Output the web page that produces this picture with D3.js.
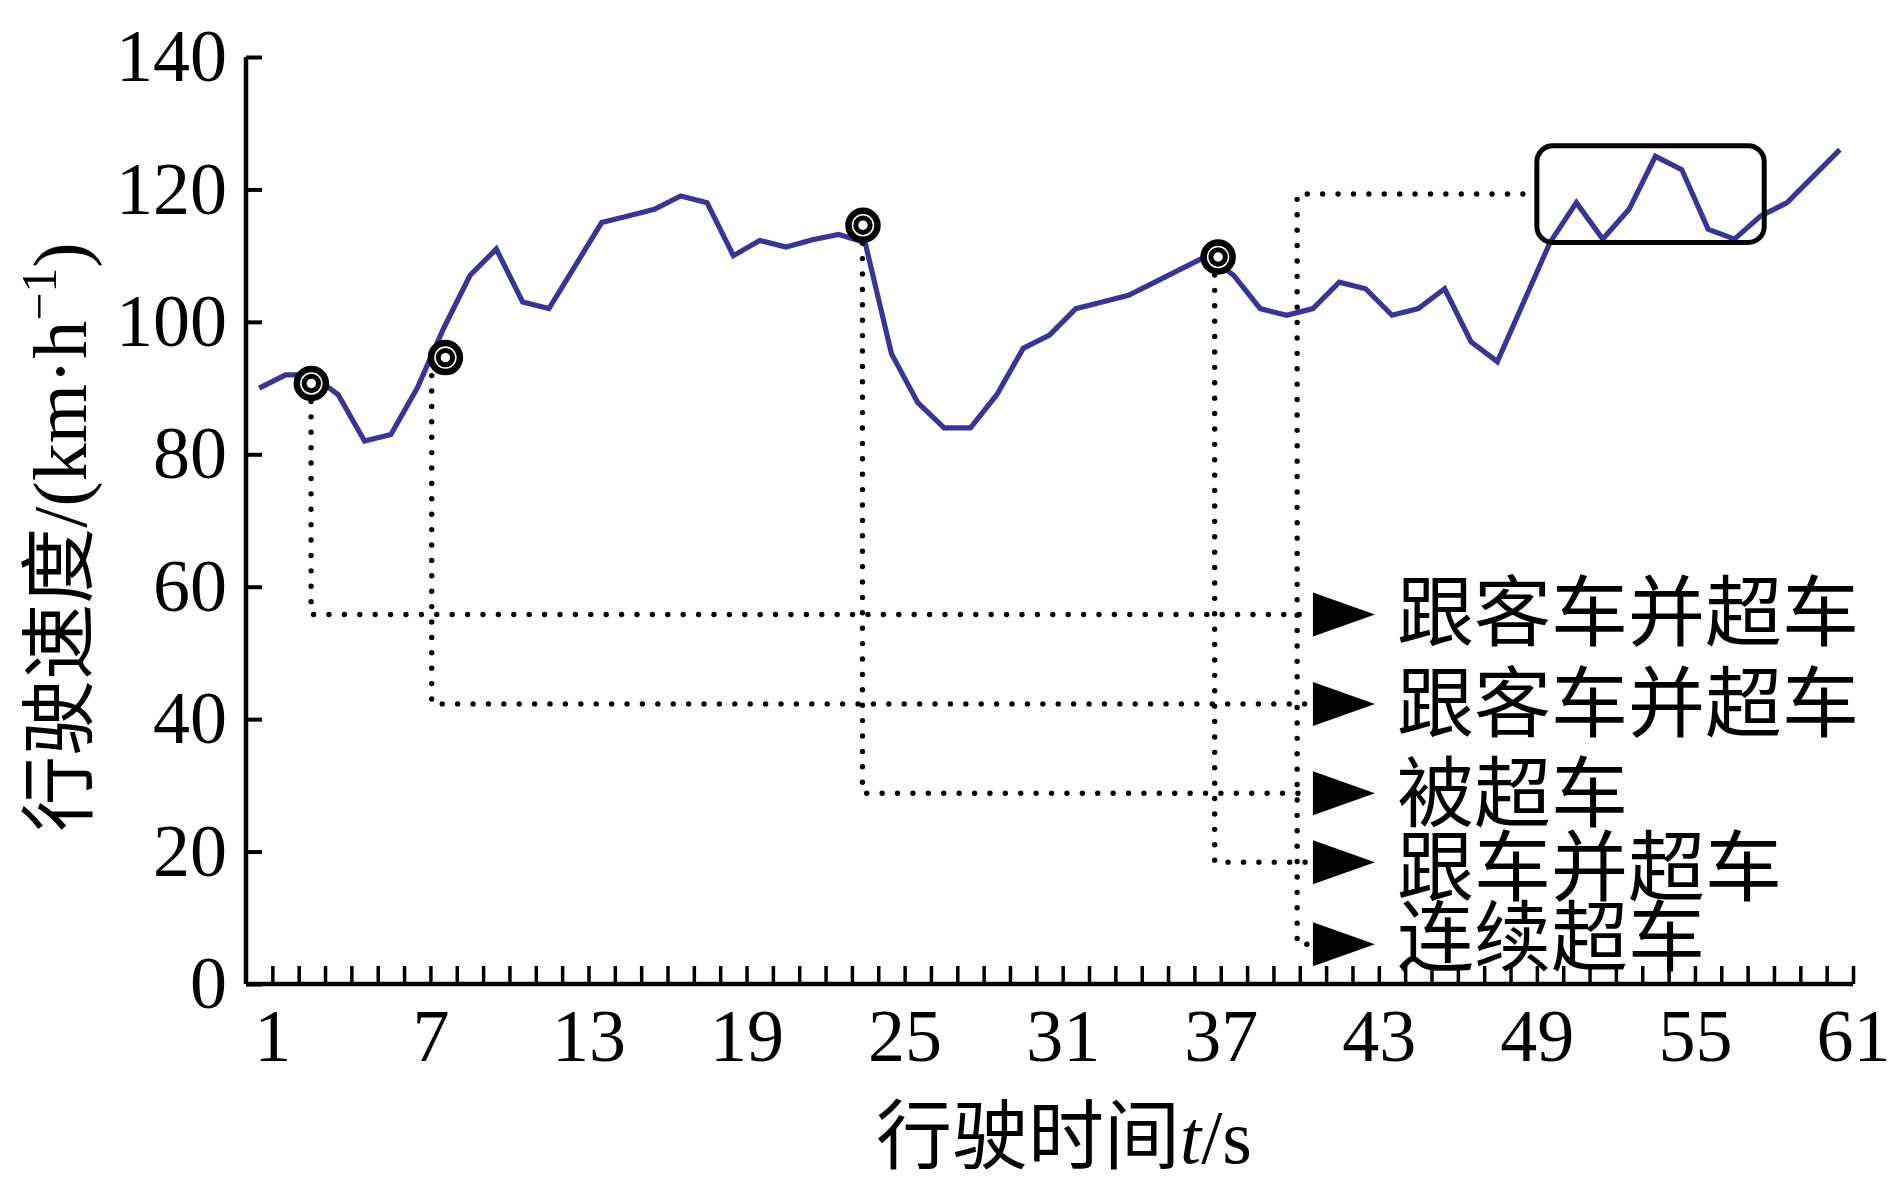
<!DOCTYPE html>
<html><head><meta charset="utf-8">
<script src="https://cdn.jsdelivr.net/npm/d3@7"></script>
<style>
html,body{margin:0;padding:0;background:#fff;}
svg{display:block;}
</style></head>
<body>
<svg id="chart" width="1894" height="1190"></svg>
<script>
// ---- data ----
const seconds = [1,2,3,4,5,6,7,8,9,10,11,12,13,14,15,16,17,18,19,20,21,22,23,24,25,26,27,28,29,30,31,32,33,34,35,36,37,38,39,40,41,42,43,44,45,46,47,48,49,50,51,52,53,54,55,56,57,58,59,60,61];
const speed = [90,92,92,89,82,83,90,99,107,111,103,102,108.5,115,116,117,119,118,110,112.3,111.3,112.4,113.2,112,95.2,87.8,84,84,89,96,98,102,103,104,106,108,110,107,102,101,102,106,105,101,102,105,97,94,103,112,118,112.5,117,125,123,114,112.5,116,118,122,126];
const xTickLabels = [1,7,13,19,25,31,37,43,49,55,61];
const yTickValues = [0,20,40,60,80,100,120,140];
// event markers (time, speed)
const markerT = [2.48, 7.57, 23.42, 36.9];
const markerV = [90.7, 94.6, 114.6, 109.8];
// leader lines: vertical drop position and the label row they go to
const leaderT = [2.47, 7.05, 23.4, 36.77];
const rowV = [55.8, 42.3, 28.8, 18.4, 6.0];
const rowTextV = [56.1, 42.4, 28.8, 17.6, 7.0];
const rowLabels = ["跟客车并超车","跟客车并超车","被超车","跟车并超车","连续超车"];
// highlighted box (continuous overtaking)
const boxT = [49.0, 57.63];
const boxV = [112.0, 126.6];
const boxLeaderV = 119.3;
const boxLeaderT = 39.9;
const arrowT = 40.5;

// ---- layout ----
const svg = d3.select("#chart");
const x = d3.scaleLinear().domain([0, 61]).range([246, 1853]);
const y = d3.scaleLinear().domain([0, 140]).range([984, 57]);
const lineColor = "#363699";
const numFont = "'Liberation Serif','Times New Roman',serif";
const cjkFont = "'Noto Sans CJK SC','Noto Sans CJK JP',sans-serif";

// axes
const yAxis = d3.axisLeft(y).tickValues(yTickValues).tickSize(-16).tickPadding(19);
const gy = svg.append("g").attr("transform", `translate(${x(0)},0)`).call(yAxis);
gy.select(".domain").attr("stroke", "#000").attr("stroke-width", 4.5).attr("d", `M0,${y(140)}V${y(0)}`);
gy.selectAll(".tick line").attr("stroke", "#000").attr("stroke-width", 4);
gy.selectAll(".tick text").attr("font-family", numFont).attr("font-size", 74).attr("fill", "#000");

const xAxis = d3.axisBottom(x).tickValues(seconds).tickSize(-18).tickPadding(24)
  .tickFormat(d => xTickLabels.includes(d) ? String(d) : "");
const gx = svg.append("g").attr("transform", `translate(0,${y(0)})`).call(xAxis);
gx.select(".domain").attr("stroke", "#000").attr("stroke-width", 4.5).attr("d", `M${x(0)},0H${x(61)}`);
gx.selectAll(".tick line").attr("stroke", "#000").attr("stroke-width", 3.5);
gx.selectAll(".tick text").attr("font-family", numFont).attr("font-size", 74).attr("fill", "#000");

// speed line (samples drawn at mid-second)
const line = d3.line().x((d, i) => x(seconds[i] - 0.5)).y(d => y(d));
svg.append("path").datum(speed).attr("d", line)
  .attr("fill", "none").attr("stroke", lineColor).attr("stroke-width", 5.2).attr("stroke-linejoin", "miter");

// dotted leader lines
const dotted = sel => sel.attr("fill", "none").attr("stroke", "#000").attr("stroke-width", 5.4)
  .attr("stroke-linecap", "round").attr("stroke-dasharray", "0 15.4");
leaderT.forEach((t, i) => {
  const p = d3.path();
  p.moveTo(x(t), y(markerV[i]) + 18);
  p.lineTo(x(t), y(rowV[i]));
  p.lineTo(x(arrowT) - 6, y(rowV[i]));
  svg.append("path").attr("d", p.toString()).call(dotted);
});
{
  const p = d3.path();
  p.moveTo(x(boxT[0]) - 14, y(boxLeaderV));
  p.lineTo(x(boxLeaderT), y(boxLeaderV));
  p.lineTo(x(boxLeaderT), y(rowV[4]));
  p.lineTo(x(arrowT) - 6, y(rowV[4]));
  svg.append("path").attr("d", p.toString()).call(dotted);
}

// box
svg.append("rect")
  .attr("x", x(boxT[0])).attr("y", y(boxV[1]))
  .attr("width", x(boxT[1]) - x(boxT[0])).attr("height", y(boxV[0]) - y(boxV[1]))
  .attr("rx", 16).attr("ry", 16)
  .attr("fill", "none").attr("stroke", "#000").attr("stroke-width", 5);

// markers
markerT.forEach((t, i) => {
  const g = svg.append("g").attr("transform", `translate(${x(t)},${y(markerV[i])})`);
  g.append("circle").attr("r", 14.5).attr("fill", "#fff").attr("stroke", "#000").attr("stroke-width", 6.5);
  g.append("circle").attr("r", 7.2).attr("fill", "#fff").attr("stroke", "#000").attr("stroke-width", 5);
});

// arrows + labels
rowV.forEach((v, i) => {
  const x0 = x(arrowT), yy = y(v);
  svg.append("path").attr("d", `M${x0},${yy - 22}L${x0},${yy + 22}L${x0 + 62},${yy}Z`).attr("fill", "#000");
  svg.append("text").attr("x", x0 + 84).attr("y", y(rowTextV[i])).attr("dy", "0.36em")
    .attr("font-family", cjkFont).attr("font-size", 77).attr("fill", "#000").text(rowLabels[i]);
});

// axis titles
const xt = svg.append("text").attr("x", 1064).attr("y", 1163).attr("text-anchor", "middle")
  .attr("font-size", 76).attr("fill", "#000");
xt.append("tspan").attr("font-family", cjkFont).text("行驶时间");
xt.append("tspan").attr("font-family", numFont).attr("font-style", "italic").text("t");
xt.append("tspan").attr("font-family", numFont).text("/s");

const yt = svg.append("text").attr("transform", "translate(86,537) rotate(-90)").attr("text-anchor", "middle")
  .attr("font-size", 76).attr("fill", "#000");
yt.append("tspan").attr("font-family", cjkFont).text("行驶速度");
yt.append("tspan").attr("font-family", numFont).text("/(km·h");
yt.append("tspan").attr("font-family", numFont).attr("font-size", 50).attr("dy", -30).text("−1");
yt.append("tspan").attr("font-family", numFont).attr("dy", 30).text(")");
</script>
</body></html>
